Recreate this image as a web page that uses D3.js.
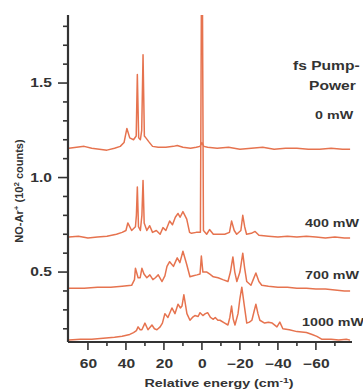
<!DOCTYPE html>
<html>
<head>
<meta charset="utf-8">
<script src="https://cdn.jsdelivr.net/npm/d3@7"></script>
<style>
  body { margin: 0; background: #fff; }
  svg { display: block; font-family: "Liberation Sans", Arial, sans-serif; }
</style>
</head>
<body>
<div id="chart"></div>
<script>
// spectra, [relative energy (cm-1), counts (10^2)]
const trace0 = [[70,1.155],[66,1.16],[62,1.165],[58,1.155],[54,1.15],[50,1.145],[46,1.155],[43,1.165],[41,1.185],[39.5,1.26],[38,1.21],[36,1.2],[34.6,1.22],[34,1.545],[33.3,1.21],[32.4,1.2],[31.7,1.25],[31,1.65],[30.3,1.22],[29.5,1.21],[28,1.19],[26,1.165],[23,1.16],[19,1.16],[15,1.165],[13,1.17],[10,1.16],[6,1.155],[3,1.16],[1,1.165],[0,1.185],[-1,1.165],[-3,1.16],[-8,1.155],[-14,1.16],[-20,1.15],[-26,1.155],[-32,1.16],[-38,1.15],[-44,1.155],[-50,1.155],[-56,1.15],[-62,1.15],[-68,1.155],[-74,1.15],[-78,1.15]];
const trace400 = [[70,0.685],[65,0.69],[60,0.68],[55,0.685],[50,0.69],[45,0.7],[42,0.71],[40,0.72],[39,0.76],[37,0.72],[35,0.74],[34.5,0.8],[34,0.95],[33.4,0.74],[32.4,0.72],[31.6,0.8],[31,0.985],[30.4,0.76],[29,0.72],[27.5,0.745],[26,0.71],[24,0.72],[22,0.7],[20.5,0.735],[19,0.72],[17,0.77],[15.5,0.75],[14,0.79],[12.6,0.81],[11.5,0.79],[10,0.82],[8,0.78],[6.5,0.71],[5.5,0.705],[3,0.71],[0.8,0.71],[0.25,2.0],[-0.25,2.0],[-0.8,0.72],[-2.5,0.7],[-4,0.725],[-6,0.7],[-9,0.7],[-12,0.7],[-14.5,0.71],[-15.6,0.77],[-17,0.72],[-18.3,0.7],[-20.5,0.72],[-21.5,0.8],[-22.5,0.74],[-23.5,0.7],[-26,0.705],[-28,0.715],[-30,0.695],[-35,0.69],[-40,0.685],[-45,0.69],[-50,0.685],[-55,0.69],[-60,0.685],[-65,0.68],[-70,0.685],[-75,0.68],[-78,0.68]];
const trace700 = [[70,0.415],[62,0.415],[55,0.42],[48,0.42],[42,0.425],[37,0.43],[35.5,0.46],[35,0.52],[33.6,0.47],[32.5,0.47],[31.6,0.52],[30.5,0.49],[29,0.47],[27.4,0.485],[25.8,0.46],[24.5,0.47],[23,0.485],[21,0.45],[19.5,0.48],[18.4,0.53],[17,0.555],[15,0.53],[13,0.575],[11.6,0.55],[10,0.61],[8,0.54],[6.3,0.475],[4.5,0.48],[2.6,0.485],[1,0.49],[0.3,0.585],[-0.5,0.5],[-2.6,0.5],[-4,0.49],[-6,0.475],[-8.5,0.47],[-11,0.46],[-13.7,0.45],[-15,0.5],[-16.3,0.58],[-17.3,0.5],[-18.4,0.45],[-20,0.5],[-21.5,0.6],[-22.5,0.52],[-23.6,0.45],[-25.8,0.43],[-27,0.46],[-28.4,0.495],[-30,0.45],[-31.5,0.43],[-35,0.425],[-40,0.42],[-45,0.42],[-50,0.415],[-55,0.415],[-60,0.41],[-65,0.41],[-70,0.405],[-75,0.4],[-78,0.4]];
const trace1000 = [[70,0.14],[64,0.145],[58,0.145],[52,0.15],[46,0.155],[42,0.16],[38,0.17],[36,0.18],[34.5,0.19],[33.6,0.21],[32.5,0.195],[31.6,0.195],[30,0.23],[28.4,0.195],[26.3,0.22],[25,0.2],[23.7,0.195],[22,0.21],[20.8,0.23],[19.5,0.28],[17.9,0.26],[15.8,0.31],[14.2,0.28],[12.6,0.33],[11.3,0.31],[10.5,0.32],[9.5,0.38],[7.9,0.28],[6.3,0.245],[5,0.26],[3.7,0.27],[2,0.265],[1,0.285],[-0.5,0.27],[-1.8,0.28],[-3,0.285],[-4.5,0.26],[-6,0.25],[-7,0.26],[-8.4,0.245],[-9.5,0.245],[-12,0.23],[-13.7,0.22],[-14.7,0.26],[-15.6,0.32],[-16.5,0.25],[-17.4,0.22],[-19,0.28],[-20,0.36],[-21,0.42],[-22.2,0.33],[-23.6,0.23],[-25,0.235],[-26.3,0.245],[-27.4,0.29],[-28.4,0.33],[-29.5,0.28],[-30.5,0.245],[-33,0.23],[-35,0.235],[-37,0.23],[-39.5,0.21],[-41,0.235],[-42.6,0.2],[-46,0.195],[-50,0.185],[-55,0.18],[-58,0.17],[-60.5,0.16],[-63,0.145],[-68,0.145],[-72,0.14],[-76,0.145],[-78,0.14]];

const seriesNames = ["0 mW", "400 mW", "700 mW", "1000 mW"];
const seriesData = [trace0, trace400, trace700, trace1000];
const labelValues = [1.33, 0.76, 0.485, 0.235]; // y where the power labels sit
const xMajorTicks = [60, 40, 20, 0, -20, -40, -60];
const xMinorTicks = [50, 30, 10, -10, -30, -50, -70];
const yMajorTicks = [0.5, 1.0, 1.5];
const yMinorTicks = [0.2, 0.3, 0.4, 0.6, 0.7, 0.8, 0.9, 1.1, 1.2, 1.3, 1.4, 1.6, 1.7, 1.8];

const W = 363, H = 392;
const mLeft = 68, mRight = 352, mTop = 15, mBottom = 342;
const stretch = 1.3; // text in the picture is a bit wide
const orange = "#e6734f";
const ink = "#333";

const svg = d3.select("#chart").append("svg")
  .attr("width", W)
  .attr("height", H);

const x = d3.scaleLinear().domain([70.5, -79]).range([mLeft, mRight]);
const y = d3.scaleLinear().domain([0.13, 1.86]).range([mBottom, mTop]);

svg.append("clipPath").attr("id", "plot")
  .append("rect")
  .attr("x", mLeft).attr("y", mTop)
  .attr("width", mRight - mLeft).attr("height", mBottom - mTop);

const line = d3.line()
  .x(d => x(d[0]))
  .y(d => y(d[1]));

svg.append("g")
  .attr("clip-path", "url(#plot)")
  .selectAll("path")
  .data(seriesData)
  .enter()
  .append("path")
  .attr("d", line)
  .attr("fill", "none")
  .attr("stroke", orange)
  .attr("stroke-width", 1.5)
  .attr("stroke-linejoin", "round");

// x axis: labels from d3.axisBottom, tick marks drawn as lines
const xAxis = svg.append("g")
  .attr("transform", "translate(0," + mBottom + ")")
  .call(d3.axisBottom(x).tickValues(xMajorTicks).tickSize(0).tickFormat(d3.format("d")));
xAxis.select(".domain").remove();
xAxis.selectAll("text")
  .attr("y", 17)
  .attr("fill", ink)
  .style("font-size", "12px")
  .style("font-weight", "bold")
  .attr("transform", "scale(" + stretch + ",1)");

const xTicks = svg.append("g").attr("stroke", ink).attr("stroke-width", 1.6);
xTicks.selectAll(".xmaj")
  .data(xMajorTicks)
  .enter()
  .append("line")
  .attr("x1", d => x(d)).attr("x2", d => x(d))
  .attr("y1", mBottom).attr("y2", mBottom + 8);
xTicks.selectAll(".xmin")
  .data(xMinorTicks)
  .enter()
  .append("line")
  .attr("x1", d => x(d)).attr("x2", d => x(d))
  .attr("y1", mBottom).attr("y2", mBottom + 4);
xTicks.append("line")
  .attr("x1", mLeft).attr("x2", mRight)
  .attr("y1", mBottom).attr("y2", mBottom)
  .attr("stroke-width", 2.2);

// y axis
const yAxis = svg.append("g")
  .attr("transform", "translate(" + mLeft + ",0)")
  .call(d3.axisLeft(y).tickValues(yMajorTicks).tickSize(0).tickFormat(d3.format(".1f")));
yAxis.select(".domain").remove();
yAxis.selectAll("text")
  .attr("x", -16 / stretch)
  .attr("fill", ink)
  .style("font-size", "12px")
  .style("font-weight", "bold")
  .attr("transform", "scale(" + stretch + ",1)");

const yTicks = svg.append("g").attr("stroke", ink).attr("stroke-width", 1.6);
yTicks.selectAll(".ymaj")
  .data(yMajorTicks)
  .enter()
  .append("line")
  .attr("y1", d => y(d)).attr("y2", d => y(d))
  .attr("x1", mLeft - 10).attr("x2", mLeft);
yTicks.selectAll(".ymin")
  .data(yMinorTicks)
  .enter()
  .append("line")
  .attr("y1", d => y(d)).attr("y2", d => y(d))
  .attr("x1", mLeft - 5).attr("x2", mLeft);
yTicks.append("line")
  .attr("x1", mLeft).attr("x2", mLeft)
  .attr("y1", mTop).attr("y2", mBottom)
  .attr("stroke-width", 2.2);

// axis titles
svg.append("text")
  .attr("transform", "translate(" + ((mLeft + mRight) / 2 + 9) + ",387) scale(" + stretch + ",1)")
  .attr("text-anchor", "middle")
  .attr("fill", ink)
  .style("font-size", "11px")
  .style("font-weight", "bold")
  .html("Relative energy (cm<tspan dy='-4' font-size='8px'>-1</tspan><tspan dy='4'>)</tspan>");

svg.append("text")
  .attr("transform", "translate(23,191) rotate(-90)")
  .attr("text-anchor", "middle")
  .attr("fill", ink)
  .style("font-size", "11px")
  .style("font-weight", "bold")
  .html("NO-Ar<tspan dy='-4' font-size='8px'>+</tspan><tspan dy='4'> (10</tspan><tspan dy='-4' font-size='8px'>2</tspan><tspan dy='4'> counts)</tspan>");

// legend heading and power labels
const heading = ["fs Pump-", "Power"];
svg.selectAll(".heading")
  .data(heading)
  .enter()
  .append("text")
  .attr("class", "heading")
  .attr("transform", (d, i) => "translate(" + (i === 0 ? 293 : 309) + "," + (70 + i * 20) + ") scale(" + stretch + ",1)")
  .attr("fill", ink)
  .style("font-size", "12px")
  .style("font-weight", "bold")
  .text(d => d);

svg.selectAll(".power")
  .data(seriesNames)
  .enter()
  .append("text")
  .attr("class", "power")
  .attr("transform", (d, i) => "translate(" + (i === 0 ? 315 : i === 3 ? 302 : 305) + "," + (y(labelValues[i]) + 4) + ") scale(" + stretch + ",1)")
  .attr("fill", ink)
  .style("font-size", "11px")
  .style("font-weight", "bold")
  .text(d => d);
</script>
</body>
</html>
